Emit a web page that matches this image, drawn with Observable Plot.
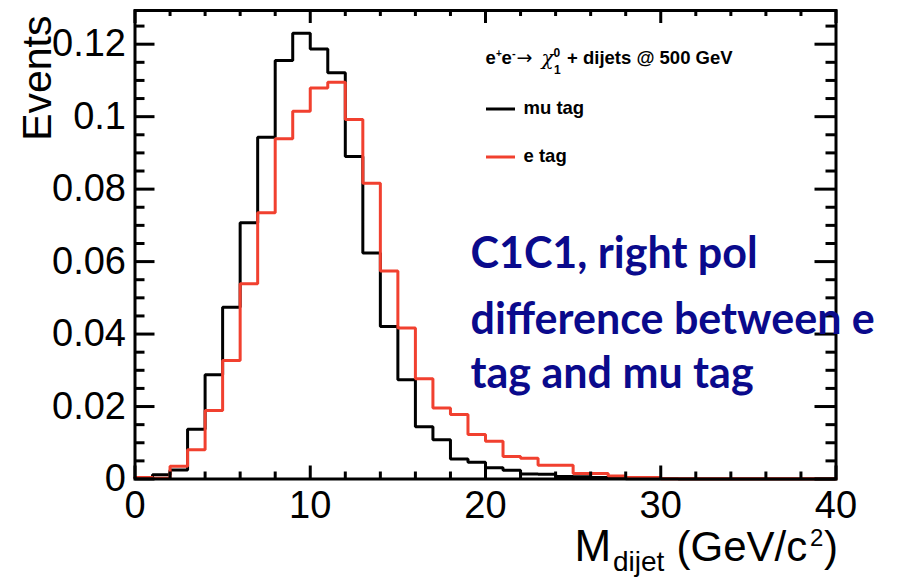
<!DOCTYPE html>
<html>
<head>
<meta charset="utf-8">
<script src="https://cdn.jsdelivr.net/npm/d3@7"></script>
<script src="https://cdn.jsdelivr.net/npm/@observablehq/plot@0.6"></script>
<style>
  html, body { margin: 0; padding: 0; background: #fff; }
  #chart svg { display: block; }
</style>
</head>
<body>
<div id="chart"></div>
<script>
// Dijet invariant mass, e+e- -> chi1^0 + dijets @ 500 GeV, 1 GeV/c^2 bins
const binLow = [0, 1, 2, 3, 4, 5, 6, 7, 8, 9, 10, 11, 12, 13, 14, 15, 16, 17, 18, 19,
                20, 21, 22, 23, 24, 25, 26, 27, 28, 29, 30, 31, 32, 33, 34, 35, 36, 37, 38, 39];
const binWidth = 1;

const muTag = [0.0003, 0.0012, 0.0025, 0.0137, 0.0288, 0.0474, 0.0707, 0.0943, 0.1155, 0.1230,
               0.1187, 0.1121, 0.0890, 0.0624, 0.0421, 0.0274, 0.0144, 0.0108, 0.0055, 0.0046,
               0.0031, 0.0024, 0.0014, 0.0013, 0.0007, 0.0006, 0.0004, 0.0002, 0.0001, 0.0001,
               0.0001, 0, 0, 0, 0, 0, 0, 0, 0, 0];

const eTag = [0.0004, 0.0002, 0.0035, 0.0081, 0.0189, 0.0327, 0.0539, 0.0735, 0.0939, 0.1015,
              0.1079, 0.1095, 0.0992, 0.0816, 0.0574, 0.0417, 0.0277, 0.0196, 0.0178, 0.0123,
              0.0104, 0.0062, 0.0057, 0.0038, 0.0038, 0.0015, 0.0015, 0.0008, 0.0004, 0.0004,
              0.0001, 0.0001, 0.0001, 0.0001, 0.0001, 0.0001, 0.0001, 0.0001, 0.0001, 0.0001];

const xMajor = [0, 10, 20, 30, 40];
const xMinor = [2, 4, 6, 8, 12, 14, 16, 18, 22, 24, 26, 28, 32, 34, 36, 38];
const yMajor = [0, 0.02, 0.04, 0.06, 0.08, 0.1, 0.12];
const yMinor = [0.005, 0.01, 0.015, 0.025, 0.03, 0.035, 0.045, 0.05, 0.055, 0.065, 0.07, 0.075,
                0.085, 0.09, 0.095, 0.105, 0.11, 0.115, 0.125];
const yTickLabels = ["0", "0.02", "0.04", "0.06", "0.08", "0.1", "0.12"];

const seriesNames = ["mu tag", "e tag"];
const seriesColors = ["#000000", "#f1402f"];
const noteLines = ["C1C1, right pol", "difference between e", "tag and mu tag"];

// histogram outline: one step per bin plus the closing upper edge
function outline(values) {
  const pts = binLow.map((x, i) => ({x, y: values[i]}));
  pts.push({x: binLow[binLow.length - 1] + binWidth, y: values[values.length - 1]});
  return pts;
}

const W = 899, H = 577;
const mL = 134.5, mR = 63.5, mT = 10, mB = 98.5;
const fw = W - mL - mR, fh = H - mT - mB;
const sans = "'Liberation Sans', Arial, Helvetica, sans-serif";
const noteFont = "Lato, 'Open Sans', sans-serif";
const noteColor = "#0a0a8c";
const ink = "#000";

// small helper for pieces of text placed relative to the frame's top-left corner
const piece = (str, dx, dy, opts = {}) =>
  Plot.text([str], {frameAnchor: "top-left", dx, dy, text: d => d, textAnchor: "start",
                    lineAnchor: "bottom", fill: ink, fontFamily: sans, ...opts});

const chart = Plot.plot({
  width: W, height: H,
  marginLeft: mL, marginRight: mR, marginTop: mT, marginBottom: mB,
  x: {domain: [0, 40], axis: null},
  y: {domain: [0, 0.1293], axis: null},
  style: {background: "#fff", fontFamily: sans, color: ink},
  marks: [
    // histograms
    Plot.line(outline(muTag), {x: "x", y: "y", curve: "step-after", stroke: seriesColors[0], strokeWidth: 3, strokeLinejoin: "miter"}),
    Plot.line(outline(eTag), {x: "x", y: "y", curve: "step-after", stroke: seriesColors[1], strokeWidth: 3, strokeLinejoin: "miter"}),

    // inward ticks on all four sides
    Plot.tickX(xMajor, {x: d => d, insetTop: fh - 13, stroke: ink, strokeWidth: 3}),
    Plot.tickX(xMinor, {x: d => d, insetTop: fh - 7, stroke: ink, strokeWidth: 3}),
    Plot.tickX(xMajor, {x: d => d, insetBottom: fh - 13, stroke: ink, strokeWidth: 3}),
    Plot.tickX(xMinor, {x: d => d, insetBottom: fh - 6, stroke: ink, strokeWidth: 3}),
    Plot.tickY(yMajor, {y: d => d, insetRight: fw - 20, stroke: ink, strokeWidth: 3}),
    Plot.tickY(yMinor, {y: d => d, insetRight: fw - 10, stroke: ink, strokeWidth: 3}),
    Plot.tickY(yMajor, {y: d => d, insetLeft: fw - 21, stroke: ink, strokeWidth: 3}),
    Plot.tickY(yMinor, {y: d => d, insetLeft: fw - 10, stroke: ink, strokeWidth: 3}),
    Plot.frame({stroke: ink, strokeWidth: 3}),

    // tick labels
    Plot.axisX(xMajor, {label: null, tickSize: 0, tickPadding: 12, fontSize: 38, tickFormat: d => String(d), fill: ink}),
    Plot.axisY(yMajor, {label: null, tickSize: 0, tickPadding: 9, fontSize: 38, tickFormat: (d, i) => yTickLabels[i], fill: ink}),

    // axis titles
    Plot.text(["Events"], {frameAnchor: "top-left", dx: -84.5, dy: 5, rotate: -90, textAnchor: "end",
                           lineAnchor: "bottom", fontSize: 41, fill: ink, fontFamily: sans}),
    piece("M", 439.5, 560 - mT, {fontSize: 44}),
    piece("dijet", 478, 570 - mT, {fontSize: 28}),
    piece("(GeV/c", 541.5, 560 - mT, {fontSize: 42}),
    piece("2", 675, 545 - mT, {fontSize: 24}),
    piece(")", 689, 560 - mT, {fontSize: 42}),

    // legend header: e+e- -> chi_1^0 + dijets @ 500 GeV
    piece("e", 485 - mL, 63 - mT, {fontSize: 18.5, fontWeight: "bold"}),
    piece("+", 495.5 - mL, 56 - mT, {fontSize: 10, fontWeight: "bold"}),
    piece("e", 501 - mL, 63 - mT, {fontSize: 18.5, fontWeight: "bold"}),
    piece("-", 511.5 - mL, 56 - mT, {fontSize: 11, fontWeight: "bold"}),
    piece("\u2192", 516 - mL, 63 - mT, {fontSize: 19, fontFamily: "'DejaVu Sans', sans-serif"}),
    piece("\u03C7", 541 - mL, 64 - mT, {fontSize: 20, fontStyle: "italic", fontFamily: "'DejaVu Serif', serif"}),
    piece("0", 553 - mL, 56 - mT, {fontSize: 12, fontWeight: "bold"}),
    piece("1", 553.5 - mL, 73 - mT, {fontSize: 12, fontWeight: "bold"}),
    piece("+ dijets @ 500 GeV", 566.5 - mL, 63 - mT, {fontSize: 18.5, fontWeight: "bold"}),

    // legend entries
    piece(seriesNames[0], 523 - mL, 113.5 - mT, {fontSize: 18.5, fontWeight: "bold"}),
    piece(seriesNames[1], 523 - mL, 161.5 - mT, {fontSize: 18.5, fontWeight: "bold"}),

    // annotation
    piece(noteLines[0], 470 - mL, 267 - mT, {fontSize: 43, fontWeight: "bold", fill: noteColor, fontFamily: noteFont}),
    piece(noteLines[1], 470 - mL, 333 - mT, {fontSize: 43, fontWeight: "bold", fill: noteColor, fontFamily: noteFont}),
    piece(noteLines[2], 470 - mL, 387 - mT, {fontSize: 43, fontWeight: "bold", fill: noteColor, fontFamily: noteFont})
  ]
});

// legend swatches: short horizontal strokes in each series colour
const svg = d3.select(chart);
[[109, 0], [157, 1]].forEach(([py, k]) => {
  svg.append("line").attr("x1", 486).attr("x2", 515).attr("y1", py).attr("y2", py)
     .attr("stroke", seriesColors[k]).attr("stroke-width", 3);
});

document.getElementById("chart").appendChild(chart);
</script>
</body>
</html>
